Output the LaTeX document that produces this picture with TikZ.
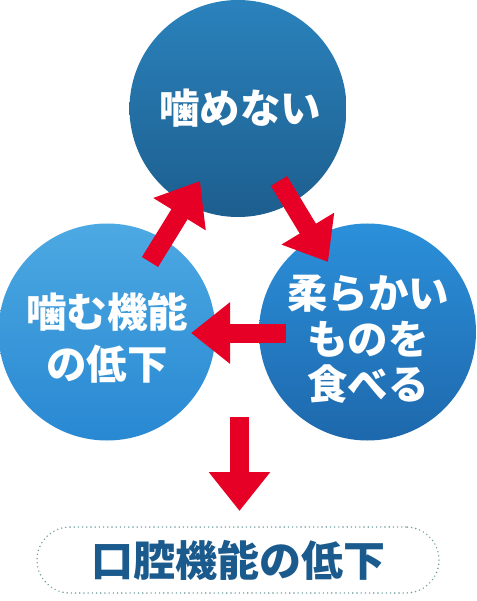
\documentclass[tikz,border=0pt]{standalone}
\usepackage{fontspec}
\newfontfamily\cjk{Noto Sans CJK JP}
\usetikzlibrary{arrows.meta,shadings}
\definecolor{arrowred}{HTML}{E60026}
\definecolor{topA}{HTML}{2A82BC}
\definecolor{topB}{HTML}{1D5E8E}
\definecolor{leftA}{HTML}{4DA9E2}
\definecolor{leftB}{HTML}{2888D2}
\definecolor{rightA}{HTML}{2B90DA}
\definecolor{rightB}{HTML}{1E68AC}
\definecolor{boxtext}{HTML}{1B5A8C}
\definecolor{dotcol}{HTML}{6E9C9C}
\tikzset{
  bubble/.style={circle, inner sep=0pt, minimum size=217pt},
  bubbletext/.style={text=white, font=\cjk\bfseries\fontsize{40.5pt}{50pt}\selectfont, align=center, inner sep=0pt},
  redarrow/.style={draw=arrowred, line width=19pt, -{Triangle[width=59pt,length=39pt]}, arrowred},
}
\begin{document}
\begin{tikzpicture}[x=1pt,y=-1pt]
\useasboundingbox[fill=white] (0,0) rectangle (476,601);
% circles
\node[bubble, top color=topA, bottom color=topB] (top) at (238,108.5) {};
\node[bubble, top color=leftA, bottom color=leftB] (left) at (107,332) {};
\node[bubble, top color=rightA, bottom color=rightB] (right) at (367.5,332) {};
% texts
\node[bubbletext] (toptext) at (240,108) {噛めない};
\node[bubbletext] (lefttext1) at (107,312) {噛む機能};
\node[bubbletext] (lefttext2) at (107,364) {の低下};
\node[bubbletext] (righttext1) at (368,294) {柔らかい};
\node[bubbletext] (righttext2) at (368,339) {ものを};
\node[bubbletext] (righttext3) at (368,384) {食べる};
% arrow end points
\coordinate (a1s) at (150,262);
\coordinate (a1e) at (200,181);
\coordinate (a2s) at (279,181);
\coordinate (a2e) at (328,262);
\coordinate (a3s) at (286,333);
\coordinate (a3e) at (191,333);
\coordinate (a4s) at (239.5,417);
\coordinate (a4e) at (239.5,511);
\draw[redarrow] (a1s) -- (a1e);
\draw[redarrow] (a2s) -- (a2e);
\draw[redarrow] (a3s) -- (a3e);
\draw[redarrow] (a4s) -- (a4e);
% bottom box
\node[draw=dotcol, line width=1.6pt, dash pattern=on 0pt off 4.2pt, line cap=round,
      rounded corners=33pt, minimum width=402pt, minimum height=66pt,
      text=boxtext, font=\cjk\bfseries\fontsize{42pt}{50pt}\selectfont, inner sep=0pt]
      (result) at (238,560) {口腔機能の低下};
\end{tikzpicture}
\end{document}
